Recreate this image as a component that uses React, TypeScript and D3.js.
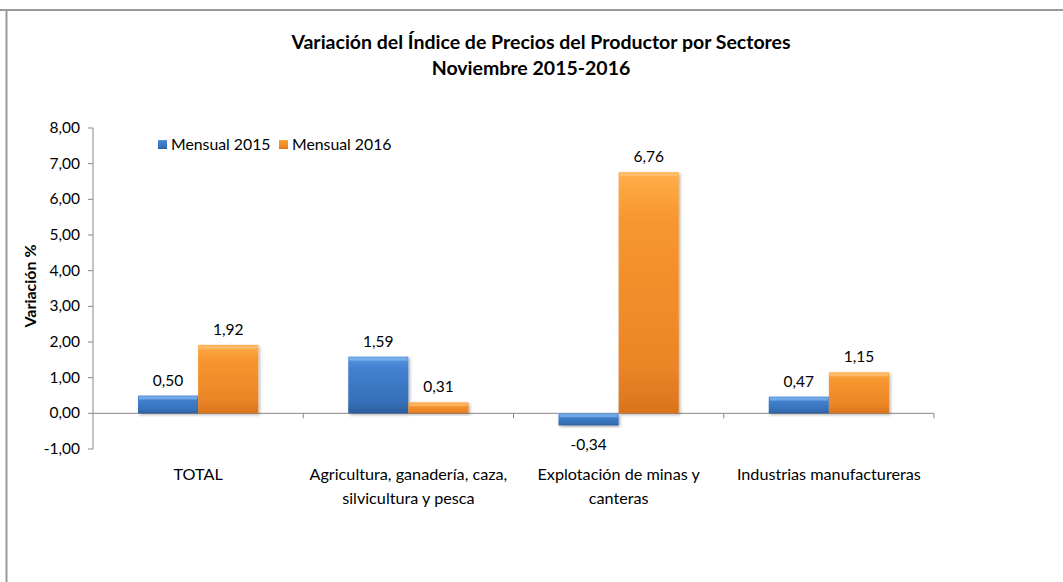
import { useEffect, useRef } from "react";
import * as d3 from "d3";

const CATEGORIES = [
  ["TOTAL"],
  ["Agricultura, ganadería, caza,", "silvicultura y pesca"],
  ["Explotación de minas y", "canteras"],
  ["Industrias manufactureras"],
];
const SERIES = ["Mensual 2015", "Mensual 2016"];
const MENSUAL_2015 = [0.5, 1.59, -0.34, 0.47];
const MENSUAL_2016 = [1.92, 0.31, 6.76, 1.15];
const Y_TICKS = [-1, 0, 1, 2, 3, 4, 5, 6, 7, 8];

const W = 1063, H = 582;
const FONT = "Lato, 'Open Sans', sans-serif";
const fmt = (v: number) => v.toFixed(2).replace(".", ",");

export default function App() {
  const ref = useRef<SVGSVGElement>(null);
  useEffect(() => {
    const el = ref.current;
    if (!el) return;
    const svg = d3.select(el);
    svg.selectAll("*").remove();

    const M = { left: 93, right: 934, top: 128, bottom: 449 };
    const y = d3.scaleLinear().domain([-1, 8]).range([M.bottom, M.top]);
    const x0 = d3.scaleBand<number>().domain(d3.range(CATEGORIES.length)).range([M.left, M.right]);
    const inner = d3.scaleBand<number>().domain([0, 1]).range([45, x0.bandwidth() - 45]);

    // frame
    svg.append("rect").attr("width", W).attr("height", H).attr("fill", "#fff");
    svg.append("line").attr("x1", 0).attr("x2", W).attr("y1", 10).attr("y2", 10).attr("stroke", "#9a9a9a").attr("stroke-width", 2);
    svg.append("line").attr("x1", 6.5).attr("x2", 6.5).attr("y1", 10).attr("y2", H).attr("stroke", "#9a9a9a").attr("stroke-width", 2);

    const defs = svg.append("defs");
    const grads = [
      ["g0", "#5a9ae0", "#4181d0", "#3670b8", "#2c5e9c"],
      ["g1", "#ffae4a", "#f7962f", "#ec8527", "#d9731d"],
    ];
    grads.forEach(([id, a, b, c, d]) => {
      const g = defs.append("linearGradient").attr("id", id).attr("x1", 0).attr("x2", 0).attr("y1", 0).attr("y2", 1);
      g.append("stop").attr("offset", "0%").attr("stop-color", a);
      g.append("stop").attr("offset", "20%").attr("stop-color", b);
      g.append("stop").attr("offset", "80%").attr("stop-color", c);
      g.append("stop").attr("offset", "100%").attr("stop-color", d);
    });
    const sh = defs.append("filter").attr("id", "sh").attr("x", "-10%").attr("y", "-10%").attr("width", "130%").attr("height", "130%");
    sh.append("feDropShadow").attr("dx", 1.5).attr("dy", 1.5).attr("stdDeviation", 1.5).attr("flood-color", "#000").attr("flood-opacity", 0.3);

    // title
    const title = svg.append("text").attr("text-anchor", "middle").attr("font-family", FONT).attr("font-weight", "bold").attr("font-size", 19.5).attr("fill", "#000");
    title.append("tspan").attr("x", 541).attr("y", 49).text("Variación del Índice de Precios del Productor por Sectores");
    title.append("tspan").attr("x", 531).attr("y", 75).text("Noviembre 2015-2016");

    // y axis
    svg.append("line").attr("x1", M.left).attr("x2", M.left).attr("y1", y(8)).attr("y2", y(-1)).attr("stroke", "#878787");
    Y_TICKS.forEach((t) => {
      svg.append("line").attr("x1", M.left - 5).attr("x2", M.left).attr("y1", y(t)).attr("y2", y(t)).attr("stroke", "#878787");
      svg.append("text").attr("x", 80).attr("y", y(t) + 5).attr("text-anchor", "end").attr("font-family", FONT).attr("font-size", 15.5).attr("fill", "#000").text(fmt(t));
    });
    svg.append("text").attr("transform", `translate(36,${286}) rotate(-90)`).attr("text-anchor", "middle").attr("font-family", FONT).attr("font-weight", "bold").attr("font-size", 16).text("Variación %");

    // zero axis with category ticks
    svg.append("line").attr("x1", M.left).attr("x2", M.right).attr("y1", y(0)).attr("y2", y(0)).attr("stroke", "#878787");
    d3.range(1, CATEGORIES.length + 1).forEach((i) => {
      const xx = M.left + x0.bandwidth() * i;
      svg.append("line").attr("x1", xx).attr("x2", xx).attr("y1", y(0)).attr("y2", y(0) + 5).attr("stroke", "#878787");
    });

    // bars
    [MENSUAL_2015, MENSUAL_2016].forEach((vals, s) => {
      vals.forEach((v, i) => {
        const bx = (x0(i) ?? 0) + (inner(s) ?? 0);
        const bw = inner.bandwidth();
        const top = Math.min(y(v), y(0));
        const h = Math.abs(y(v) - y(0));
        svg.append("rect").attr("x", bx).attr("y", top).attr("width", bw).attr("height", h).attr("fill", `url(#g${s})`).attr("filter", "url(#sh)");
        const lt = s === 0 ? "#8fc0f2" : "#ffc886";
        svg.append("rect").attr("x", bx + 1).attr("y", top + 1).attr("width", bw - 2).attr("height", Math.min(3, h / 3)).attr("fill", lt).attr("opacity", 0.6);
        svg.append("text").attr("x", bx + bw / 2).attr("y", v >= 0 ? y(v) - 10 : y(v) + 25)
          .attr("text-anchor", "middle").attr("font-family", FONT).attr("font-size", 15.5).attr("fill", "#000").text(fmt(v));
      });
    });

    // category labels
    CATEGORIES.forEach((lines, i) => {
      const cx = (x0(i) ?? 0) + x0.bandwidth() / 2;
      lines.forEach((ln, j) => {
        svg.append("text").attr("x", cx).attr("y", 480 + j * 24).attr("text-anchor", "middle").attr("font-family", FONT).attr("font-size", 16.2).attr("fill", "#000").text(ln);
      });
    });

    // legend
    const lx = [158, 279];
    SERIES.forEach((name, s) => {
      svg.append("rect").attr("x", lx[s]).attr("y", 140).attr("width", 9).attr("height", 9).attr("fill", `url(#g${s})`);
      svg.append("text").attr("x", lx[s] + 13).attr("y", 150).attr("font-family", FONT).attr("font-size", 15.8).attr("fill", "#000").text(name);
    });
  }, []);
  return (
    <svg ref={ref} width={W} height={H} style={{ position: "absolute", left: 0, top: 0, display: "block" }} role="img" aria-label="Variación del Índice de Precios del Productor por Sectores" />
  );
}
